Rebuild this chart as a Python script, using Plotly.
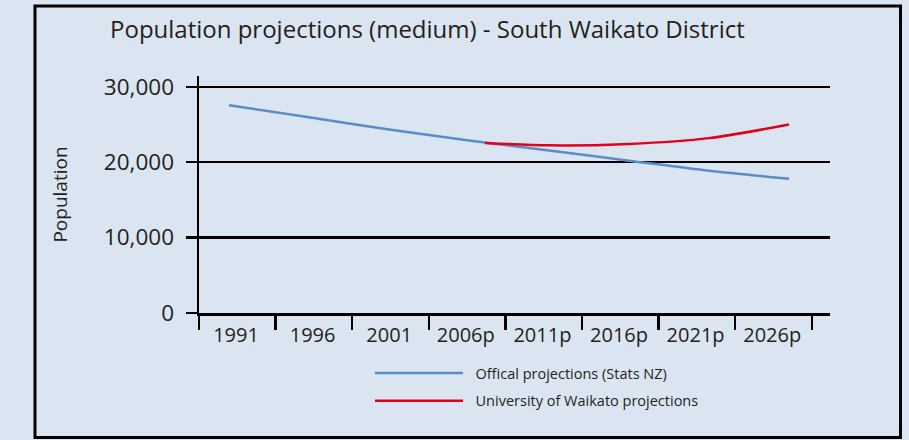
import plotly.graph_objects as go

# ---- data ----
categories = ["1991", "1996", "2001", "2006p", "2011p", "2016p", "2021p", "2026p"]
official_years = [1991, 1996, 2001, 2006, 2011, 2016, 2021, 2026]
official_pop = [27550, 25960, 24340, 22890, 21550, 20200, 18860, 17810]
waikato_years = [2007, 2011, 2016, 2021, 2026]
waikato_pop = [22560, 22230, 22420, 23190, 25000]
y_ticks = [0, 10000, 20000, 30000]
y_tick_labels = ["0", "10,000", "20,000", "30,000"]

# ---- layout geometry ----
W, H = 909, 440
ML, MR, MT, MB = 199, 79, 76, 127
X_START = 1989.125          # left edge of the category band
BAND = 4.7875               # width of one category band, in years
X_END = 2028.5625
Y_MAX = 31430

boundaries = [X_START + BAND * k for k in range(len(categories) + 1)]
tick_text = categories + [""]

BG = "#dbe5f1"
TXT = "#231f20"
FONT = "Open Sans"

fig = go.Figure()
fig.add_trace(go.Scatter(
    x=official_years, y=official_pop, mode="lines",
    name="\u00a0\u00a0Offical projections (Stats NZ)", legendgroup="a",
    line=dict(color="#5b8cc7", width=2.5, shape="spline", smoothing=0.8),
    hoverinfo="skip"))
fig.add_trace(go.Scatter(
    x=waikato_years, y=waikato_pop, mode="lines",
    name="\u00a0\u00a0University of Waikato projections", legendgroup="b",
    line=dict(color="#e2001a", width=2.5, shape="spline", smoothing=0.8),
    hoverinfo="skip"))

pw = W - ML - MR
ph = H - MT - MB

def px_x(p):
    return (p - ML) / pw

def px_y(p):
    return (H - MB - p) / ph

fig.update_layout(
    width=W, height=H,
    margin=dict(l=ML, r=MR, t=MT, b=MB),
    paper_bgcolor=BG, plot_bgcolor=BG,
    font=dict(family=FONT, color=TXT),
    title=dict(text="Population projections (medium) - South Waikato District",
               x=110 / W, xanchor="left", y=1 - 30 / H, yanchor="middle",
               font=dict(size=24, family=FONT, color=TXT)),
    xaxis=dict(range=[X_START, X_END], tickmode="array", tickvals=boundaries,
               ticktext=tick_text, ticks="outside", ticklen=14, tickwidth=2.5,
               tickcolor="black", showline=True, linecolor="black", linewidth=2.5,
               showgrid=False, zeroline=False, ticklabelshift=37,
               ticklabelstandoff=-12,
               tickfont=dict(size=20, family=FONT, color=TXT), fixedrange=True),
    yaxis=dict(range=[0, Y_MAX], tickmode="array", tickvals=y_ticks,
               ticktext=y_tick_labels, ticks="outside", ticklen=11, tickwidth=2.5,
               tickcolor="black", showline=True, linecolor="black", linewidth=2.5,
               showgrid=True, gridcolor="black", gridwidth=2.3, zeroline=False,
               ticklabelstandoff=7,
               tickfont=dict(size=22.5, family=FONT, color=TXT),
               title=dict(text="Population", standoff=31,
                          font=dict(size=19, family=FONT, color=TXT)),
               fixedrange=True),
    legend=dict(x=px_x(370), xanchor="left", y=px_y(357), yanchor="top",
                bgcolor="rgba(0,0,0,0)", itemwidth=88, tracegroupgap=6,
                font=dict(size=14.5, family=FONT, color=TXT), traceorder="grouped"),
    shapes=[dict(type="rect", xref="paper", yref="paper",
                 x0=px_x(35), x1=px_x(900.5), y0=px_y(437.5), y1=px_y(6),
                 line=dict(color="black", width=3), layer="below")],
)

fig.write_html(
    "out.html",
    config={"displayModeBar": False, "staticPlot": True},
    post_script="document.body.style.margin='0';"
                "document.body.style.background='" + BG + "';",
)
